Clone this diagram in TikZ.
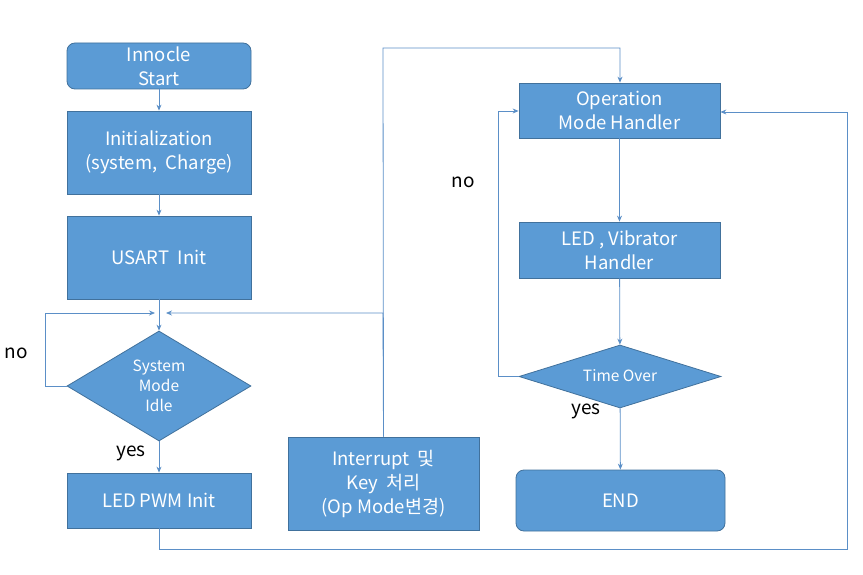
\documentclass[tikz,border=0pt]{standalone}
\usepackage{fontspec}
\setmainfont{Noto Sans CJK KR}
\usetikzlibrary{shapes.geometric,arrows.meta}
\definecolor{boxfill}{HTML}{5B9BD5}
\definecolor{boxline}{HTML}{41719C}
\definecolor{conn}{HTML}{5B8FC7}
\begin{document}
\begin{tikzpicture}[x=1pt,y=-1pt,
  every node/.style={font=\fontsize{18.5}{24}\selectfont},
  proc/.style={draw=boxline,fill=boxfill,text=white,align=center,inner sep=0pt,line width=0.8pt},
  rproc/.style={proc,rounded corners=8pt},
  dec/.style={draw=boxline,fill=boxfill,text=white,align=center,diamond,inner sep=0pt,line width=0.8pt},
  lbl/.style={text=black,font=\fontsize{19}{22}\selectfont},
  conn/.style={draw=conn,line width=0.8pt},
  arr/.style={conn,-{Stealth[length=6pt,width=5pt]}}]
\useasboundingbox (0,0) rectangle (863,575);
\node[rproc,minimum width=184pt,minimum height=46pt] (start) at (159,66) {Innocle\\Start};
\node[proc,minimum width=184pt,minimum height=83pt] (init) at (159,152.5) {Initialization\\(system,\ \ Charge)};
\node[proc,minimum width=184pt,minimum height=83pt] (usart) at (159,257.5) {USART\ \ Init};
\node[dec,minimum width=184pt,minimum height=110pt,font=\fontsize{15.5}{20}\selectfont] (idle) at (159,386) {System\\Mode\\Idle};
\node[proc,minimum width=184pt,minimum height=55pt] (pwm) at (159,500.5) {LED\ PWM\ Init};
\node[proc,minimum width=191pt,minimum height=93pt] (intr) at (383.5,483.5) {Interrupt\ \ 및\\Key\ \ 처리\\(Op Mode변경)};
\node[proc,minimum width=201pt,minimum height=55pt] (omh) at (619.5,110.5) {Operation\\Mode Handler};
\node[proc,minimum width=201pt,minimum height=56pt] (led) at (619.5,250) {LED\ ,\ Vibrator\\Handler};
\node[dec,minimum width=202pt,minimum height=63pt,font=\fontsize{15.5}{18}\selectfont] (tover) at (620,376.5) {\makebox[0pt]{\raisebox{-0.35em}[0pt][0pt]{Time Over}}};
\node[rproc,minimum width=209pt,minimum height=61pt] (end) at (620.5,500.5) {END};
\node[lbl] (no1) at (16,353) {no};
\node[lbl] (yes1) at (131,453) {yes};
\node[lbl] (no2) at (463,182) {no};
\node[lbl] (yes2) at (586,411) {yes};
\draw[arr] (start) -- (init);
\draw[arr] (init) -- (usart);
\draw[arr] (usart) -- (idle);
\draw[arr] (idle) -- (pwm);
\draw[arr] (idle.west) -- (45,386) -- (45,313) -- (155,313);
\draw[arr] (intr.north) -- (383,313) -- (166,313);
\draw[arr] (intr.north) -- (383,48) -- (620,48) -- (omh.north -| 620,0);
\draw[arr] (pwm.south) -- (159,549) -- (847,549) -- (847,112) -- (omh.east |- 0,112);
\draw[arr] (omh) -- (led);
\draw[arr] (led) -- (tover);
\draw[arr] (tover) -- (end);
\draw[arr] (tover.west) -- (498,376.5) -- (498,111) -- (omh.west |- 0,111);
\end{tikzpicture}
\end{document}
